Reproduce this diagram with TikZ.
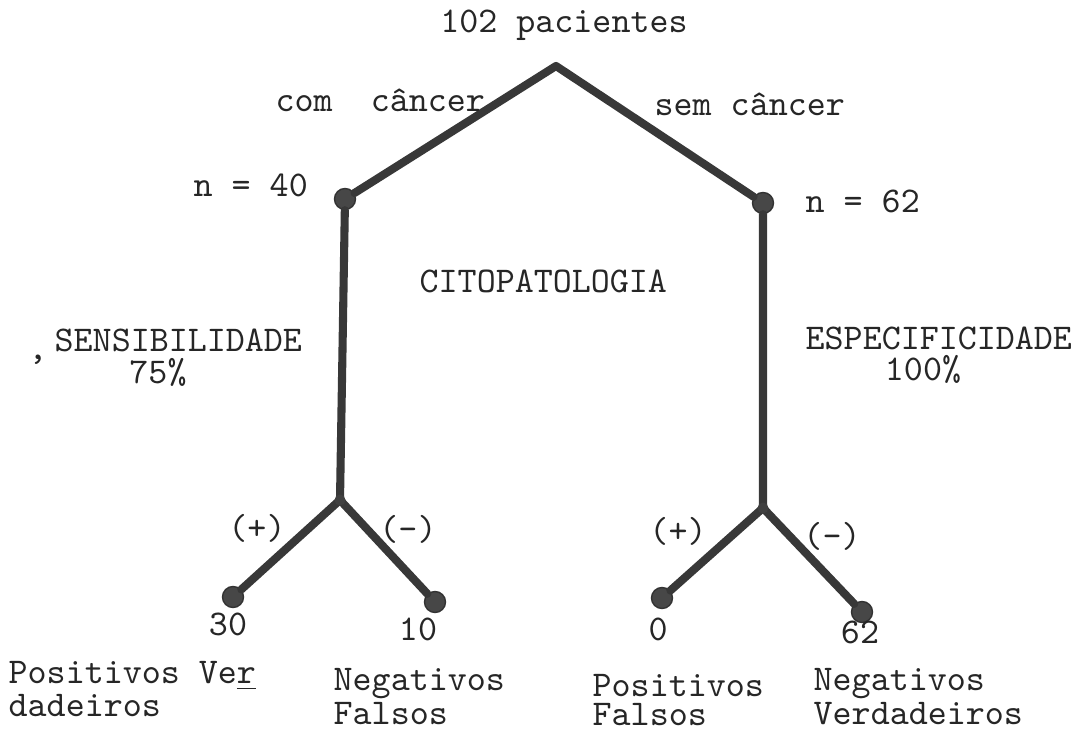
\documentclass[tikz,border=0pt]{standalone}

\begin{document}
\begin{tikzpicture}[
		% pixel-like units: x to the right, y downwards
		x=0.01cm,
		y=-0.01cm,
		font=\ttfamily\fontsize{10.3}{8.2}\selectfont,
		branch/.style={line width=2.3pt, draw=black!78, line join=round, line cap=round},
		knot/.style={circle, fill=black!72, draw=black!80, inner sep=0pt, minimum size=0.21cm},
		lbl/.style={inner sep=0pt, text=black!85}
		]
		\useasboundingbox (0,0) rectangle (1079,734);
		
		% ==========================================
		% 1. Tree points
		% ==========================================
		\coordinate (apex) at (556,66);
		\node[knot] (n40) at (345,199) {};
		\node[knot] (n62) at (763,203) {};
		\coordinate (lsplit) at (340,500);
		\coordinate (rsplit) at (763,508);
		\node[knot] (leaf30) at (233,597) {};
		\node[knot] (leaf10) at (435,602) {};
		\node[knot] (leaf0) at (662,598) {};
		\node[knot] (leaf62) at (862,612) {};
		
		% ==========================================
		% 2. Branches
		% ==========================================
		\draw[branch] (n40) -- (apex) -- (n62);
		\draw[branch] (n40) -- (lsplit) -- (leaf30);
		\draw[branch] (lsplit) -- (leaf10);
		\draw[branch] (n62) -- (rsplit) -- (leaf0);
		\draw[branch] (rsplit) -- (leaf62);
		\fill[black!75] (lsplit) circle (0.055cm) (rsplit) circle (0.055cm);
		
		% ==========================================
		% 3. Labels
		% ==========================================
		\node[lbl, anchor=base] (total) at (564,33) {102 pacientes};
		\node[lbl, anchor=base west] (com) at (275,112) {com\ \ câncer};
		\node[lbl, anchor=base west] (sem) at (654,116) {sem câncer};
		\node[lbl, anchor=base west] (cnt40) at (193,197) {n = 40};
		\node[lbl, anchor=base west] (cnt62) at (805,213) {n = 62};
		\node[lbl, anchor=base west] (cito) at (419,293) {CITOPATOLOGIA};
		
		\node[lbl, anchor=base] (virg) at (38,360) {,};
		\node[lbl, anchor=base west] (sens) at (54,352) {SENSIBILIDADE};
		\node[lbl, anchor=base] (sensval) at (158,384) {75\%};
		\node[lbl, anchor=base west] (espec) at (805,350) {ESPECIFICIDADE};
		\node[lbl, anchor=base] (especval) at (923,381) {100\%};
		
		% test signs
		\node[lbl, anchor=base] (lpos) at (257,540) {(+)};
		\node[lbl, anchor=base] (lneg) at (408,541) {(-)};
		\node[lbl, anchor=base] (rpos) at (678,543) {(+)};
		\node[lbl, anchor=base] (rneg) at (832,548) {(-)};
		
		% counts
		\node[lbl, anchor=base] (num30) at (228,636) {30};
		\node[lbl, anchor=base] (num10) at (418,640) {10};
		\node[lbl, anchor=base] (num0) at (658,640) {0};
		\node[lbl, anchor=base] (num62) at (860,643) {62};
		
		% outcomes
		\node[lbl, anchor=north west, align=left] (vp) at (8,661) {Positivos Ve\underline{r}\\dadeiros};
		\node[lbl, anchor=north west, align=left] (fn) at (333,668) {Negativos\\Falsos};
		\node[lbl, anchor=north west, align=left] (fp) at (592,674) {Positivos\\Falsos};
		\node[lbl, anchor=north west, align=left] (vn) at (813,668) {Negativos\\Verdadeiros};
		
	\end{tikzpicture}
\end{document}
